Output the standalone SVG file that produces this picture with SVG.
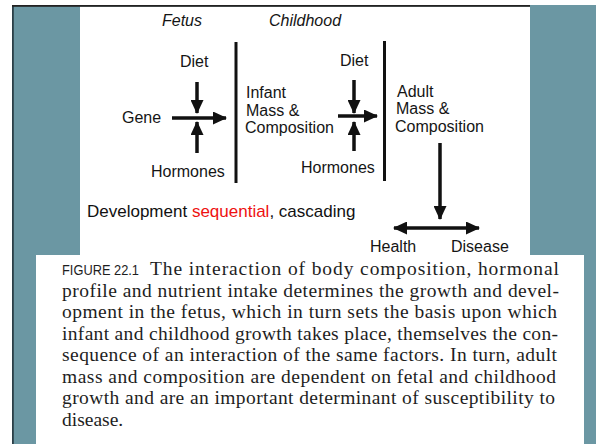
<svg xmlns="http://www.w3.org/2000/svg" width="596" height="444" viewBox="0 0 596 444">
<style>
.lbl{font-family:"Liberation Sans",Arial,sans-serif;font-size:16px;fill:#151515}
.ital{font-family:"Liberation Sans",Arial,sans-serif;font-size:16px;font-style:italic;fill:#151515}
.cap{font-family:"Liberation Serif","Times New Roman",serif;font-size:19.5px;fill:#1e1e1e}
.fig{font-family:"Liberation Sans",Arial,sans-serif;font-size:14px;fill:#1e1e1e}
.bar{stroke:#111;stroke-width:3;fill:none}
.arr{stroke:#111;stroke-width:3.5;fill:none;marker-end:url(#ah)}
</style>
<defs>
<marker id="ah" markerUnits="userSpaceOnUse" markerWidth="14" markerHeight="13" refX="13" refY="6.5" orient="auto-start-reverse" viewBox="0 0 14 13">
<path d="M0,0 L14,6.5 L0,13 z" fill="#111"/>
</marker>
</defs>
<rect x="0" y="0" width="596" height="444" fill="#ffffff"/>
<rect x="12" y="5" width="584" height="439" fill="#6b97a3"/>
<rect x="12" y="5" width="1.8" height="439" fill="#2b3f47"/>
<rect x="80" y="6.5" width="450" height="249" fill="#ffffff"/>
<rect x="12" y="5" width="518" height="1.8" fill="#222"/>
<rect x="36" y="255" width="548" height="189" fill="#ffffff"/>

<g id="headers">
<text class="ital" x="162" y="26">Fetus</text>
<text class="ital" x="269" y="26">Childhood</text>
</g>
<g id="dividers">
<line class="bar" x1="236" y1="42" x2="236" y2="183"/>
<line class="bar" x1="384.5" y1="41" x2="384.5" y2="181"/>
</g>
<g id="diet1"><text class="lbl" x="180" y="67">Diet</text></g>
<g id="gene"><text class="lbl" x="122" y="123">Gene</text></g>
<g id="hormones1"><text class="lbl" x="151" y="177">Hormones</text></g>
<g id="infant">
<text class="lbl" x="246" y="98">Infant</text>
<text class="lbl" x="246" y="116">Mass &amp;</text>
<text class="lbl" x="245" y="133">Composition</text>
</g>
<g id="diet2"><text class="lbl" x="340" y="66">Diet</text></g>
<g id="hormones2"><text class="lbl" x="301" y="173">Hormones</text></g>
<g id="adult">
<text class="lbl" x="397" y="97">Adult</text>
<text class="lbl" x="396" y="114">Mass &amp;</text>
<text class="lbl" x="395" y="132">Composition</text>
</g>
<g id="health"><text class="lbl" x="370" y="252">Health</text></g>
<g id="disease"><text class="lbl" x="451" y="252">Disease</text></g>
<g id="note">
<text x="87" y="217" style="font-family:'Liberation Sans',Arial,sans-serif;font-size:17px;fill:#111">Development <tspan fill="#ee1111">sequential</tspan>, cascading</text>
</g>

<g id="connectors">
<line class="arr" x1="197" y1="82" x2="197" y2="113"/>
<line class="arr" x1="172" y1="118" x2="226" y2="118"/>
<line class="arr" x1="197" y1="153" x2="197" y2="122"/>
<line class="arr" x1="354" y1="80" x2="354" y2="113"/>
<line class="arr" x1="338" y1="116" x2="377" y2="116"/>
<line class="arr" x1="354" y1="151" x2="354" y2="122"/>
<line class="arr" x1="440" y1="143" x2="440" y2="219"/>
<line class="arr" x1="394" y1="228" x2="479" y2="228" style="marker-start:url(#ah)"/>
</g>

<g id="caption">
<text class="fig" x="62" y="275" textLength="77" lengthAdjust="spacingAndGlyphs">FIGURE 22.1</text>
<text class="cap" x="150" y="275" textLength="409" lengthAdjust="spacing">The interaction of body composition, hormonal</text>
<text class="cap" x="62" y="296.5" textLength="497" lengthAdjust="spacing">profile and nutrient intake determines the growth and devel-</text>
<text class="cap" x="62" y="318" textLength="495" lengthAdjust="spacing">opment in the fetus, which in turn sets the basis upon which</text>
<text class="cap" x="62" y="339.5" textLength="496" lengthAdjust="spacing">infant and childhood growth takes place, themselves the con-</text>
<text class="cap" x="62" y="361" textLength="495" lengthAdjust="spacing">sequence of an interaction of the same factors. In turn, adult</text>
<text class="cap" x="62" y="382.5" textLength="494" lengthAdjust="spacing">mass and composition are dependent on fetal and childhood</text>
<text class="cap" x="62" y="404" textLength="493" lengthAdjust="spacing">growth and are an important determinant of susceptibility to</text>
<text class="cap" x="62" y="425.5">disease.</text>
</g>
</svg>
